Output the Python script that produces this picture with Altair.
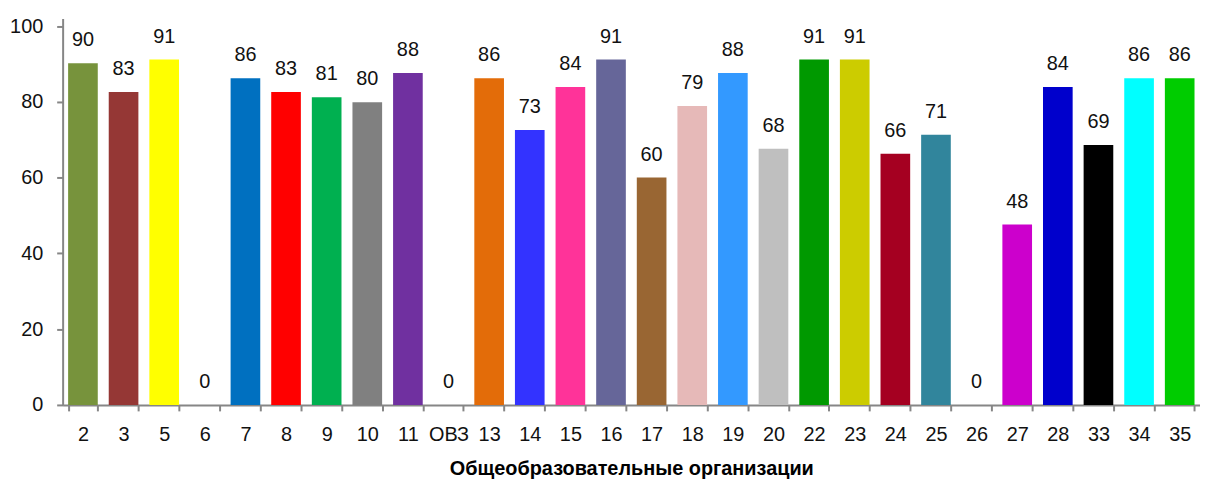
import altair as alt
import pandas as pd

categories = ["2", "3", "5", "6", "7", "8", "9", "10", "11", "ОВЗ", "13", "14", "15", "16",
              "17", "18", "19", "20", "22", "23", "24", "25", "26", "27", "28", "33", "34", "35"]
values = [90.2, 82.6, 91.2, 0, 86.2, 82.6, 81.2, 79.9, 87.6, 0, 86.2, 72.6, 83.9, 91.2,
          60.0, 78.9, 87.6, 67.6, 91.2, 91.2, 66.3, 71.3, 0, 47.6, 83.9, 68.6, 86.2, 86.2]
labels = ["90", "83", "91", "0", "86", "83", "81", "80", "88", "0", "86", "73", "84", "91",
          "60", "79", "88", "68", "91", "91", "66", "71", "0", "48", "84", "69", "86", "86"]
colors = ["#77933C", "#953735", "#FFFF00", "#FFFFFF", "#0070C0", "#FF0000", "#00B050", "#808080",
          "#7030A0", "#FFFFFF", "#E36C09", "#3333FF", "#FF3399", "#666699", "#996633", "#E6B9B8",
          "#3399FF", "#BFBFBF", "#009900", "#CCCC00", "#A50021", "#31859C", "#FFFFFF", "#CC00CC",
          "#0000CC", "#000000", "#00FFFF", "#00CC00"]

df = pd.DataFrame({"cat": categories, "val": values, "lab": labels, "col": colors})

FONT = "Liberation Sans, Arial, sans-serif"

x = alt.X("cat:N", sort=categories, title="Общеобразовательные организации",
          scale=alt.Scale(paddingInner=0.27, paddingOuter=0.135),
          axis=alt.Axis(labelAngle=0, tickBand="extent", tickSize=6, labelPadding=14,
                        labelFontSize=20, labelFont=FONT, labelColor="#111111",
                        domainColor="#868686", domainWidth=2, tickColor="#868686", tickWidth=2,
                        titleFont=FONT, titleFontSize=20,
                        titleFontWeight="bold", titleColor="#000000", titlePadding=14))

y = alt.Y("val:Q", title=None,
          scale=alt.Scale(domain=[0, 102], nice=False),
          axis=alt.Axis(values=[0, 20, 40, 60, 80, 100], grid=False, tickSize=6, labelPadding=14,
                        labelFontSize=20, labelFont=FONT, labelColor="#111111",
                        domainColor="#868686", domainWidth=2, tickColor="#868686", tickWidth=2))

bars = alt.Chart(df).mark_bar().encode(
    x=x, y=y, color=alt.Color("col:N", scale=None)
)

text = alt.Chart(df).mark_text(dy=-17, baseline="alphabetic", fontSize=20, font=FONT,
                               color="#111111").encode(
    x=alt.X("cat:N", sort=categories), y="val:Q", text="lab:N"
)

chart = (bars + text).properties(
    width=1145, height=389,
    autosize=alt.AutoSizeParams(type="none"),
    padding={"left": 55, "top": 9, "right": 0, "bottom": 74}
).configure_view(stroke=None)

chart.save("out.html", embed_options={"renderer": "svg", "actions": False})
